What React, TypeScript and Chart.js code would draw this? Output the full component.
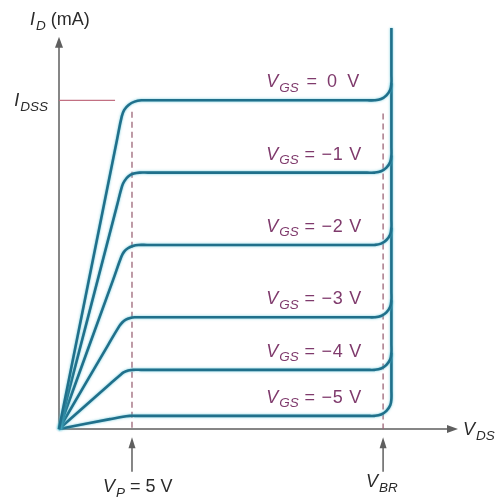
import { useEffect, useRef } from "react";
import { Chart, registerables } from "chart.js";

Chart.register(...registerables);

// Gate-source voltage of each drain curve, top to bottom
const vgsValues = ["0", "\u22121", "\u22122", "\u22123", "\u22124", "\u22125"];

// Drain characteristic curves, traced as [V_DS (V), I_D (mA)]
const curveVgs0: [number, number][] = [
  [0, 0], [3.97, 8.79], [4.3, 9.51], [4.47, 9.71], [4.77, 9.86], [5.18, 9.96], [5.64, 10], [6.23, 10],
  [21.1, 10], [21.61, 10], [22.06, 10.04], [22.43, 10.15], [22.69, 10.32], [22.77, 10.52], [22.77, 10.77], [22.77, 12.2],
];
const curveVgs1: [number, number][] = [
  [0, 0], [3.98, 6.81], [4.32, 7.39], [4.49, 7.55], [4.76, 7.69], [5.12, 7.77], [5.52, 7.8], [6.1, 7.8],
  [21.1, 7.8], [21.61, 7.8], [22.06, 7.84], [22.43, 7.95], [22.69, 8.12], [22.77, 8.32], [22.77, 8.57], [22.77, 10.52],
];
const curveVgs2: [number, number][] = [
  [0, 0], [3.7, 4.53], [4.27, 5.24], [4.45, 5.39], [4.72, 5.5], [5.06, 5.57], [5.43, 5.6], [6.03, 5.6],
  [21.1, 5.6], [21.61, 5.6], [22.06, 5.64], [22.43, 5.75], [22.69, 5.92], [22.77, 6.12], [22.77, 6.37], [22.77, 8.32],
];
const curveVgs3: [number, number][] = [
  [0, 0], [3.37, 2.56], [4.13, 3.13], [4.33, 3.24], [4.58, 3.33], [4.88, 3.38], [5.19, 3.4], [5.75, 3.4],
  [21.1, 3.4], [21.61, 3.4], [22.06, 3.44], [22.43, 3.55], [22.69, 3.72], [22.77, 3.92], [22.77, 4.17], [22.77, 6.12],
];
const curveVgs4: [number, number][] = [
  [0, 0], [3.49, 1.37], [4.24, 1.66], [4.42, 1.72], [4.62, 1.76], [4.83, 1.79], [5.06, 1.8], [5.62, 1.8],
  [21.1, 1.8], [21.61, 1.8], [22.06, 1.84], [22.43, 1.95], [22.69, 2.12], [22.77, 2.32], [22.77, 2.57], [22.77, 3.92],
];
const curveVgs5: [number, number][] = [
  [0, 0], [3.49, 0.3], [4.6, 0.39], [4.85, 0.4], [5.4, 0.4],
  [21.1, 0.4], [21.61, 0.4], [22.06, 0.44], [22.43, 0.55], [22.69, 0.72], [22.77, 0.92], [22.77, 1.17], [22.77, 2.32],
];
const curves = [curveVgs0, curveVgs1, curveVgs2, curveVgs3, curveVgs4, curveVgs5];

// Plateau (saturation) current of each curve, mA
const idPlateau = [10, 7.8, 5.6, 3.4, 1.8, 0.4];

// Key voltages and currents
const vPinch = 5; // V_P
const vBreakdown = 22.2; // V_BR
const iDSS = 10; // mA
const iDSSLineEnd = 3.84; // V
const dashTopP = 9.65; // mA
const dashTopBR = 9.6; // mA

// Axis ranges and arrow extents
const vdsMax = 27.4;
const idMax = 12.2;
const xArrowTip = 27.33;
const yArrowTip = 11.93;
const markerTail = -1.3; // mA, below the V_DS axis
const markerTip = -0.25;

// Curve label anchors (V)
const labelStartV = 14.2;
const labelEndV = 20.75;

const CURVE = "#20708b";
const AXIS = "#5f5f5f";
const DASH = "#9c6577";
const IDSS_LINE = "#c27082";
const MAGENTA = "#7f3a6c";
const TEXT = "#2b2b2b";
const FONT = '"Liberation Sans", Arial, Helvetica, sans-serif';

type Ctx = CanvasRenderingContext2D;

function subWidth(ctx: Ctx, main: string, sub: string, size: number, subSize: number) {
  ctx.font = `italic ${size}px ${FONT}`;
  const a = ctx.measureText(main).width;
  ctx.font = `italic ${subSize}px ${FONT}`;
  const b = ctx.measureText(sub).width;
  return a + b + 1;
}

// Italic symbol with italic subscript; returns the x after it
function drawSymbol(ctx: Ctx, x: number, y: number, main: string, sub: string, size: number, subSize: number, color: string) {
  ctx.fillStyle = color;
  ctx.textAlign = "left";
  ctx.textBaseline = "alphabetic";
  ctx.font = `italic ${size}px ${FONT}`;
  ctx.fillText(main, x, y);
  const a = ctx.measureText(main).width;
  ctx.font = `italic ${subSize}px ${FONT}`;
  ctx.fillText(sub, x + a + 1, y + size * 0.25);
  const b = ctx.measureText(sub).width;
  return x + a + 1 + b;
}

function arrowHead(ctx: Ctx, tipX: number, tipY: number, dir: "up" | "right", len = 11, half = 4) {
  ctx.beginPath();
  if (dir === "up") {
    ctx.moveTo(tipX, tipY);
    ctx.lineTo(tipX - half, tipY + len);
    ctx.lineTo(tipX + half, tipY + len);
  } else {
    ctx.moveTo(tipX, tipY);
    ctx.lineTo(tipX - len, tipY - half);
    ctx.lineTo(tipX - len, tipY + half);
  }
  ctx.closePath();
  ctx.fill();
}

const decorPlugin = {
  id: "jfetDecor",
  beforeDatasetsDraw(chart: any) {
    const { ctx, scales } = chart;
    const xs = scales.x;
    const ys = scales.y;
    const x0 = xs.getPixelForValue(0);
    const y0 = ys.getPixelForValue(0);
    ctx.save();
    ctx.strokeStyle = AXIS;
    ctx.fillStyle = AXIS;
    ctx.lineWidth = 1.5;
    const yTip = ys.getPixelForValue(yArrowTip);
    const xTip = xs.getPixelForValue(xArrowTip);
    ctx.beginPath();
    ctx.moveTo(x0, y0 + 0.5);
    ctx.lineTo(x0, yTip + 8);
    ctx.moveTo(x0 - 0.5, y0);
    ctx.lineTo(xTip - 8, y0);
    ctx.stroke();
    arrowHead(ctx, x0, yTip, "up");
    arrowHead(ctx, xTip, y0, "right");
    // upward markers under the V_DS axis
    for (const v of [vPinch, vBreakdown]) {
      const px = xs.getPixelForValue(v);
      const tail = ys.getPixelForValue(markerTail);
      const tip = ys.getPixelForValue(markerTip);
      ctx.beginPath();
      ctx.moveTo(px, tail);
      ctx.lineTo(px, tip + 8);
      ctx.stroke();
      arrowHead(ctx, px, tip, "up", 11, 3.5);
    }
    ctx.restore();
  },
  beforeDatasetDraw(chart: any, args: any) {
    if (args.index < curves.length) {
      const ctx = chart.ctx;
      ctx.save();
      ctx.shadowColor = "rgba(80,190,212,0.85)";
      ctx.shadowBlur = 2.5;
    }
  },
  afterDatasetDraw(chart: any, args: any) {
    if (args.index < curves.length) chart.ctx.restore();
  },
  afterDatasetsDraw(chart: any) {
    const { ctx, scales } = chart;
    const xs = scales.x;
    const ys = scales.y;
    const x0 = xs.getPixelForValue(0);
    const y0 = ys.getPixelForValue(0);
    ctx.save();

    // curve labels, spread to span the same width
    const lx = xs.getPixelForValue(labelStartV);
    const rx = xs.getPixelForValue(labelEndV);
    vgsValues.forEach((v, i) => {
      const base = ys.getPixelForValue(idPlateau[i]) - 13;
      const after = drawSymbol(ctx, lx, base, "V", "GS", 18, 13.5, MAGENTA);
      const rest = ` = ${v} V`;
      ctx.font = `18px ${FONT}`;
      ctx.textAlign = "left";
      const w = ctx.measureText(rest).width;
      const ls = Math.max(0, Math.min(4, (rx - after - w) / rest.length));
      (ctx as any).letterSpacing = `${ls}px`;
      ctx.fillText(rest, after, base);
      (ctx as any).letterSpacing = "0px";
    });

    // axis titles
    let after = drawSymbol(ctx, x0 - 29, 25, "I", "D", 18, 13.5, TEXT);
    ctx.font = `18px ${FONT}`;
    ctx.textAlign = "left";
    ctx.fillText(" (mA)", after, 25);

    const yDss = ys.getPixelForValue(iDSS);
    const wDss = subWidth(ctx, "I", "DSS", 18, 13.5);
    drawSymbol(ctx, x0 - 11 - wDss, yDss + 6, "I", "DSS", 18, 13.5, TEXT);

    drawSymbol(ctx, xs.getPixelForValue(xArrowTip) + 5, y0 + 6, "V", "DS", 18, 13.5, TEXT);

    const pxP = xs.getPixelForValue(vPinch);
    after = drawSymbol(ctx, pxP - 29, 492, "V", "P", 18, 13.5, TEXT);
    ctx.font = `18px ${FONT}`;
    ctx.textAlign = "left";
    ctx.fillText(` = ${vPinch} V`, after, 492);

    const pxBR = xs.getPixelForValue(vBreakdown);
    drawSymbol(ctx, pxBR - 17, 487, "V", "BR", 18, 13.5, TEXT);

    ctx.restore();
  },
};

export default function App() {
  const canvasRef = useRef<HTMLCanvasElement | null>(null);

  useEffect(() => {
    if (!canvasRef.current) return;
    const curveSets = curves.map((c) => ({
      data: c.map(([x, y]) => ({ x, y })),
      borderColor: CURVE,
      borderWidth: 2.6,
      tension: 0.4,
      pointRadius: 0,
      fill: false,
      clip: false as const,
    }));
    const dashed = (v: number, top: number) => ({
      data: [{ x: v, y: top }, { x: v, y: 0 }],
      borderColor: DASH,
      borderWidth: 1.3,
      borderDash: [6, 4],
      pointRadius: 0,
      tension: 0,
      fill: false,
      clip: false as const,
    });
    const chart = new Chart(canvasRef.current, {
      type: "line",
      data: {
        datasets: [
          ...curveSets,
          dashed(vPinch, dashTopP),
          dashed(vBreakdown, dashTopBR),
          {
            data: [{ x: 0, y: iDSS }, { x: iDSSLineEnd, y: iDSS }],
            borderColor: IDSS_LINE,
            borderWidth: 1.3,
            pointRadius: 0,
            tension: 0,
            fill: false,
            clip: false as const,
          },
        ] as any,
      },
      options: {
        animation: false,
        responsive: true,
        maintainAspectRatio: false,
        layout: { padding: { left: 59, right: 38, top: 28, bottom: 69 } },
        scales: {
          x: { type: "linear", min: 0, max: vdsMax, display: false },
          y: { type: "linear", min: 0, max: idMax, display: false },
        },
        plugins: { legend: { display: false }, tooltip: { enabled: false } },
        events: [],
      },
      plugins: [decorPlugin],
    });
    return () => chart.destroy();
  }, []);

  return (
    <div style={{ position: "fixed", left: 0, top: 0, width: 497, height: 498, background: "#fff" }}>
      <canvas ref={canvasRef} />
    </div>
  );
}
